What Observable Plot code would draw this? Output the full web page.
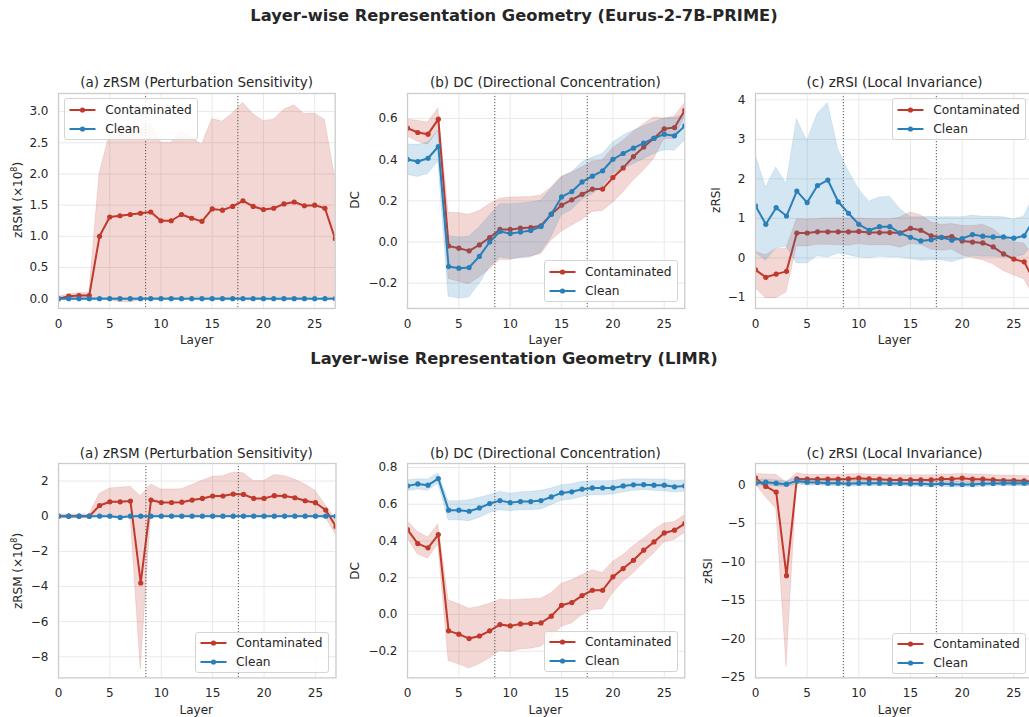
<!DOCTYPE html>
<html>
<head>
<meta charset="utf-8">
<script src="https://cdn.jsdelivr.net/npm/d3@7"></script>
<script src="https://cdn.jsdelivr.net/npm/@observablehq/plot@0.6"></script>
<style>
  body { margin: 0; background: #fff; }
  #fig { position: relative; width: 1029px; height: 717px; overflow: hidden; font-family: "DejaVu Sans", sans-serif; color: #262626; background: #fff; }
  .abs { position: absolute; white-space: nowrap; line-height: 1; }
  .ctr { transform: translate(-50%, -50%); }
  .main { font-weight: bold; font-size: 16.3px; }
  .ptitle { font-size: 13.5px; }
  .xlab { font-size: 12px; }
  .ylab { font-size: 12px; transform: translate(-50%, -50%) rotate(-90deg); }
  .legend { position: absolute; border: 1px solid #d4d4d4; border-radius: 3px; background: rgba(255,255,255,0.85); box-sizing: border-box; }
  .legend .row { position: absolute; left: 0; font-size: 12.2px; line-height: 1; white-space: nowrap; }
  sup { font-size: 8px; vertical-align: 5px; }
</style>
</head>
<body>
<div id="fig"></div>
<script>
// ---------------- data ----------------
const layers = [0,1,2,3,4,5,6,7,8,9,10,11,12,13,14,15,16,17,18,19,20,21,22,23,24,25,26,27];
const xTicks = [0,5,10,15,20,25];
const boundaries = [8.5, 17.5];
const seriesNames = ["Contaminated", "Clean"];

// Eurus-2-7B-PRIME : zRSM
const eurusZrsmContMean  = [0.0,0.04,0.05,0.05,1.0,1.31,1.33,1.35,1.37,1.39,1.25,1.25,1.35,1.29,1.24,1.44,1.42,1.48,1.57,1.48,1.43,1.45,1.52,1.55,1.49,1.50,1.45,0.96];
const eurusZrsmContUpper = [0.03,0.07,0.09,0.09,2.0,2.64,2.74,2.77,2.78,2.8,2.5,2.5,2.69,2.58,2.47,2.88,2.84,2.97,3.14,2.96,2.85,2.87,3.03,3.1,2.96,2.97,2.87,1.94];
const eurusZrsmContLower = [-0.03,0.01,0.01,0.01,0.0,-0.02,-0.06,-0.06,-0.03,-0.01,0.0,0.0,0.01,0.02,0.02,0.01,0.01,0.0,0.01,0.0,0.02,0.03,0.02,0.0,0.02,0.03,0.03,0.0];
const eurusZrsmCleanMean  = [0,0,0,0,0,0,0,0,0,0,0,0,0,0,0,0,0,0,0,0,0,0,0,0,0,0,0,0];
const eurusZrsmCleanUpper = [0.01,0.01,0.01,0.01,0.01,0.01,0.01,0.01,0.01,0.01,0.01,0.01,0.01,0.01,0.01,0.01,0.01,0.01,0.01,0.01,0.01,0.01,0.01,0.01,0.01,0.01,0.01,0.01];
const eurusZrsmCleanLower = [-0.01,-0.01,-0.01,-0.01,-0.01,-0.01,-0.01,-0.01,-0.01,-0.01,-0.01,-0.01,-0.01,-0.01,-0.01,-0.01,-0.01,-0.01,-0.01,-0.01,-0.01,-0.01,-0.01,-0.01,-0.01,-0.01,-0.01,-0.01];

// Eurus-2-7B-PRIME : DC
const eurusDcContMean  = [0.553,0.532,0.524,0.597,-0.019,-0.030,-0.043,-0.014,0.022,0.061,0.061,0.067,0.070,0.079,0.135,0.179,0.205,0.232,0.257,0.257,0.313,0.360,0.415,0.462,0.504,0.550,0.556,0.640];
const eurusDcContUpper = [0.594,0.589,0.581,0.649,0.143,0.140,0.132,0.151,0.184,0.210,0.216,0.217,0.219,0.226,0.265,0.317,0.338,0.362,0.391,0.397,0.456,0.491,0.535,0.572,0.605,0.600,0.610,0.673];
const eurusDcContLower = [0.513,0.487,0.473,0.543,-0.180,-0.193,-0.205,-0.173,-0.132,-0.088,-0.087,-0.075,-0.070,-0.059,0.006,0.050,0.079,0.107,0.146,0.151,0.190,0.240,0.297,0.346,0.403,0.500,0.500,0.607];
const eurusDcCleanMean  = [0.401,0.391,0.407,0.464,-0.119,-0.127,-0.124,-0.070,0.000,0.051,0.041,0.048,0.056,0.075,0.135,0.219,0.245,0.292,0.320,0.346,0.402,0.430,0.456,0.480,0.504,0.524,0.516,0.564];
const eurusDcCleanUpper = [0.475,0.472,0.483,0.540,0.030,0.022,0.025,0.070,0.127,0.184,0.184,0.187,0.192,0.200,0.257,0.313,0.338,0.386,0.410,0.427,0.483,0.516,0.540,0.561,0.581,0.600,0.602,0.621];
const eurusDcCleanLower = [0.326,0.316,0.330,0.391,-0.266,-0.275,-0.270,-0.205,-0.124,-0.075,-0.083,-0.080,-0.075,-0.051,0.022,0.130,0.155,0.205,0.232,0.265,0.330,0.354,0.378,0.402,0.427,0.446,0.443,0.491];

// Eurus-2-7B-PRIME : zRSI
const eurusZrsiContMean  = [-0.30,-0.49,-0.41,-0.34,0.63,0.63,0.66,0.66,0.66,0.66,0.67,0.64,0.64,0.64,0.63,0.75,0.70,0.56,0.52,0.54,0.43,0.40,0.38,0.28,0.10,-0.03,-0.10,-0.60];
const eurusZrsiContUpper = [0.15,0.07,0.22,0.24,0.98,0.97,0.98,1.0,1.0,1.0,1.0,0.98,0.98,0.98,1.02,1.15,1.08,0.90,0.83,0.86,0.81,0.81,0.84,0.73,0.52,0.39,0.37,0.0];
const eurusZrsiContLower = [-0.76,-1.02,-1.02,-0.87,0.29,0.29,0.33,0.33,0.32,0.31,0.35,0.32,0.32,0.32,0.26,0.35,0.33,0.21,0.18,0.21,0.07,0.0,-0.06,-0.16,-0.33,-0.44,-0.54,-1.0];
const eurusZrsiCleanMean  = [1.32,0.85,1.27,1.06,1.69,1.40,1.83,1.97,1.42,1.13,0.85,0.70,0.79,0.79,0.63,0.52,0.43,0.46,0.52,0.45,0.49,0.59,0.55,0.53,0.53,0.50,0.56,1.0];
const eurusZrsiCleanUpper = [2.62,1.78,2.29,1.87,3.51,2.96,3.64,3.92,2.75,2.20,1.74,1.42,1.53,1.55,1.24,1.03,1.03,1.04,1.03,1.03,1.03,1.07,1.04,1.04,1.03,0.97,1.05,1.6];
const eurusZrsiCleanLower = [0.14,-0.07,0.24,0.29,-0.14,-0.14,0.04,0.01,0.11,0.07,0.01,-0.01,0.03,0.01,0.01,-0.03,-0.07,-0.06,-0.06,-0.11,-0.03,0.04,0.03,0.03,0.01,0.01,0.07,0.4];

// LIMR : zRSM
const limrZrsmContMean  = [0.0,0.0,0.0,0.0,0.61,0.82,0.82,0.86,-3.8,0.92,0.78,0.78,0.80,0.92,1.01,1.15,1.15,1.26,1.24,1.01,1.01,1.17,1.15,1.05,0.88,0.77,0.35,-0.6];
const limrZrsmContUpper = [0.1,0.1,0.1,0.1,1.26,1.58,1.62,1.68,1.14,1.81,1.52,1.52,1.54,1.77,2.02,2.25,2.28,2.49,2.44,2.0,2.0,2.34,2.28,2.09,1.81,1.45,0.63,-0.22];
const limrZrsmContLower = [-0.1,-0.1,-0.1,-0.1,-0.03,0.06,0.0,0.06,-8.72,0.0,0.04,0.04,0.04,0.06,0.0,0.04,0.0,0.0,0.0,0.0,0.0,0.0,0.0,0.0,0.0,-0.03,-0.07,-1.07];
const limrZrsmCleanMean  = [0,0,0,0,0,0,-0.07,0,0,0,0,0,0,0,0,0,0,0,0,0,0,0,0,0,0,0,0,0];
const limrZrsmCleanUpper = [0.03,0.03,0.03,0.03,0.03,0.03,-0.03,0.03,0.03,0.03,0.03,0.03,0.03,0.03,0.03,0.03,0.03,0.03,0.03,0.03,0.03,0.03,0.03,0.03,0.03,0.03,0.03,0.03];
const limrZrsmCleanLower = [-0.03,-0.03,-0.03,-0.03,-0.03,-0.03,-0.11,-0.03,-0.03,-0.03,-0.03,-0.03,-0.03,-0.03,-0.03,-0.03,-0.03,-0.03,-0.03,-0.03,-0.03,-0.03,-0.03,-0.03,-0.03,-0.03,-0.03,-0.03];

// LIMR : DC
const limrDcContMean  = [0.462,0.386,0.363,0.435,-0.089,-0.107,-0.131,-0.117,-0.089,-0.055,-0.062,-0.051,-0.049,-0.046,-0.009,0.050,0.065,0.103,0.132,0.132,0.205,0.250,0.295,0.350,0.395,0.444,0.459,0.495];
const limrDcContUpper = [0.508,0.450,0.419,0.491,0.078,0.056,0.032,0.041,0.059,0.081,0.078,0.081,0.083,0.086,0.114,0.168,0.186,0.214,0.241,0.226,0.286,0.323,0.372,0.413,0.459,0.495,0.504,0.540];
const limrDcContLower = [0.417,0.326,0.305,0.381,-0.253,-0.271,-0.294,-0.271,-0.240,-0.198,-0.204,-0.191,-0.186,-0.176,-0.127,-0.067,-0.049,-0.004,0.024,0.029,0.114,0.177,0.223,0.281,0.332,0.392,0.405,0.444];
const limrDcCleanMean  = [0.700,0.711,0.704,0.740,0.568,0.568,0.562,0.580,0.604,0.620,0.609,0.615,0.615,0.620,0.640,0.662,0.668,0.682,0.689,0.689,0.689,0.700,0.706,0.707,0.704,0.704,0.695,0.700];
const limrDcCleanUpper = [0.731,0.736,0.735,0.767,0.617,0.617,0.622,0.635,0.649,0.668,0.658,0.664,0.668,0.673,0.686,0.704,0.709,0.722,0.726,0.726,0.727,0.735,0.736,0.736,0.735,0.735,0.727,0.731];
const limrDcCleanLower = [0.671,0.680,0.673,0.713,0.513,0.513,0.508,0.526,0.553,0.568,0.562,0.568,0.568,0.571,0.595,0.619,0.626,0.640,0.649,0.649,0.653,0.664,0.673,0.677,0.673,0.671,0.664,0.668];

// LIMR : zRSI
const limrZrsiContMean  = [0.9,-0.21,-0.94,-11.8,0.77,0.73,0.73,0.73,0.73,0.77,0.86,0.77,0.73,0.64,0.64,0.64,0.64,0.64,0.77,0.77,0.86,0.73,0.73,0.64,0.56,0.56,0.51,0.43];
const limrZrsiContUpper = [1.4,1.35,1.3,0.3,1.5,1.3,1.3,1.3,1.3,1.35,1.4,1.35,1.3,1.25,1.25,1.25,1.25,1.25,1.35,1.35,1.45,1.35,1.35,1.25,1.2,1.2,1.15,1.1];
const limrZrsiContLower = [0.1,-1.6,-3.1,-23.7,0.1,0.15,0.15,0.15,0.15,0.2,0.3,0.2,0.15,0.05,0.05,0.05,0.05,0.05,0.2,0.2,0.3,0.15,0.15,0.05,-0.05,-0.05,-0.1,-0.2];
const limrZrsiCleanMean  = [0.21,0.34,0.21,0.09,0.51,0.34,0.30,0.21,0.21,0.13,0.21,0.21,0.21,0.17,0.17,0.13,0.13,0.04,0.13,0.09,0.04,0.04,0.13,0.17,0.21,0.21,0.21,0.21];
const limrZrsiCleanUpper = [0.6,0.7,0.6,0.45,0.85,0.7,0.65,0.55,0.55,0.5,0.55,0.55,0.55,0.5,0.5,0.5,0.5,0.4,0.5,0.45,0.4,0.4,0.5,0.5,0.55,0.55,0.55,0.55];
const limrZrsiCleanLower = [-0.2,-0.05,-0.2,-0.3,0.15,-0.05,-0.05,-0.15,-0.15,-0.25,-0.15,-0.15,-0.15,-0.2,-0.2,-0.25,-0.25,-0.35,-0.25,-0.3,-0.35,-0.35,-0.25,-0.2,-0.15,-0.15,-0.15,-0.15];

// ---------------- style ----------------
const RED = "#c0392b";
const BLUE = "#2980b9";
const f1 = d3.format(".1f");
const f0 = d3.format("d");

const panels = [
  {title: "(a) zRSM (Perturbation Sensitivity)", ylab: "zRSM (×10<sup>8</sup>)", frame: [58.3, 92.7, 276.7, 215], ydom: [-0.157, 3.29], yticks: [0,0.5,1,1.5,2,2.5,3], fmt: f1,
   cont: [eurusZrsmContMean, eurusZrsmContLower, eurusZrsmContUpper], clean: [eurusZrsmCleanMean, eurusZrsmCleanLower, eurusZrsmCleanUpper], ylx: 17, legend: [64.3, 98.3]},
  {title: "(b) DC (Directional Concentration)", ylab: "DC", frame: [406.7, 92.7, 277.3, 215], ydom: [-0.323, 0.7215], yticks: [-0.2,0,0.2,0.4,0.6], fmt: f1,
   cont: [eurusDcContMean, eurusDcContLower, eurusDcContUpper], clean: [eurusDcCleanMean, eurusDcCleanLower, eurusDcCleanUpper], ylx: 355, legend: [544, 260]},
  {title: "(c) zRSI (Local Invariance)", ylab: "zRSI", frame: [755, 92.7, 279, 215], ydom: [-1.28, 4.16], yticks: [-1,0,1,2,3,4], fmt: f0,
   cont: [eurusZrsiContMean, eurusZrsiContLower, eurusZrsiContUpper], clean: [eurusZrsiCleanMean, eurusZrsiCleanLower, eurusZrsiCleanUpper], ylx: 716, legend: [892.3, 98.3]},
  {title: "(a) zRSM (Perturbation Sensitivity)", ylab: "zRSM (×10<sup>8</sup>)", frame: [57.5, 463.3, 277.5, 214.4], ydom: [-9.2, 3.0], yticks: [-8,-6,-4,-2,0,2], fmt: f0,
   cont: [limrZrsmContMean, limrZrsmContLower, limrZrsmContUpper], clean: [limrZrsmCleanMean, limrZrsmCleanLower, limrZrsmCleanUpper], ylx: 17, legend: [195, 631.7]},
  {title: "(b) DC (Directional Concentration)", ylab: "DC", frame: [406.7, 463.3, 277.3, 214.4], ydom: [-0.345, 0.822], yticks: [-0.2,0,0.2,0.4,0.6,0.8], fmt: f1,
   cont: [limrDcContMean, limrDcContLower, limrDcContUpper], clean: [limrDcCleanMean, limrDcCleanLower, limrDcCleanUpper], ylx: 355, legend: [544, 630.7]},
  {title: "(c) zRSI (Local Invariance)", ylab: "zRSI", frame: [755, 463.3, 279, 214.4], ydom: [-25.07, 2.77], yticks: [-25,-20,-15,-10,-5,0], fmt: f0,
   cont: [limrZrsiContMean, limrZrsiContLower, limrZrsiContUpper], clean: [limrZrsiCleanMean, limrZrsiCleanLower, limrZrsiCleanUpper], ylx: 708, legend: [892.3, 632.7]}
];

const fig = document.getElementById("fig");
function addDiv(cls, left, top, html) {
  const d = document.createElement("div");
  d.className = cls;
  d.style.left = left + "px";
  d.style.top = top + "px";
  d.innerHTML = html;
  fig.appendChild(d);
  return d;
}

// main titles
addDiv("abs ctr main", 514, 15.5, "Layer-wise Representation Geometry (Eurus-2-7B-PRIME)");
addDiv("abs ctr main", 514, 358.5, "Layer-wise Representation Geometry (LIMR)");

const ML = 60, MR = 4, MT = 4, MB = 36;

function rows(name, arrs) {
  return layers.map((l, i) => ({layer: l, group: name, mean: arrs[0][i], lo: arrs[1][i], hi: arrs[2][i]}));
}

panels.forEach((p) => {
  const [fx, fy, fw, fh] = p.frame;
  const cont = rows(seriesNames[0], p.cont);
  const clean = rows(seriesNames[1], p.clean);
  const svg = Plot.plot({
    width: fw + ML + MR,
    height: fh + MT + MB,
    marginLeft: ML, marginRight: MR, marginTop: MT, marginBottom: MB,
    x: {domain: [0, 27]},
    y: {domain: p.ydom},
    style: {fontFamily: "DejaVu Sans, sans-serif", fontSize: "12px", color: "#262626", background: "transparent", overflow: "visible"},
    marks: [
      Plot.gridX(xTicks, {stroke: "#e9e9e9", strokeOpacity: 1, strokeWidth: 1}),
      Plot.gridY(p.yticks, {stroke: "#e9e9e9", strokeOpacity: 1, strokeWidth: 1}),
      Plot.areaY(cont, {x: "layer", y1: "lo", y2: "hi", fill: RED, fillOpacity: 0.2, stroke: RED, strokeOpacity: 0.12, strokeWidth: 1, clip: true}),
      Plot.line(cont, {x: "layer", y: "mean", stroke: RED, strokeWidth: 2, clip: true}),
      Plot.dot(cont, {x: "layer", y: "mean", fill: RED, r: 2.6, clip: true}),
      Plot.areaY(clean, {x: "layer", y1: "lo", y2: "hi", fill: BLUE, fillOpacity: 0.2, stroke: BLUE, strokeOpacity: 0.12, strokeWidth: 1, clip: true}),
      Plot.line(clean, {x: "layer", y: "mean", stroke: BLUE, strokeWidth: 2, clip: true}),
      Plot.dot(clean, {x: "layer", y: "mean", fill: BLUE, r: 2.6, clip: true}),
      Plot.ruleX(boundaries, {stroke: "#555", strokeWidth: 1, strokeDasharray: "1.2,1.8"}),
      Plot.frame({stroke: "#cccccc", strokeWidth: 1.3}),
      Plot.axisX(xTicks, {tickSize: 0, tickPadding: 11, label: null, fontSize: 12}),
      Plot.axisY(p.yticks, {tickSize: 0, tickPadding: 10, label: null, tickFormat: p.fmt, fontSize: 12})
    ]
  });
  svg.style.position = "absolute";
  svg.style.left = (fx - ML) + "px";
  svg.style.top = (fy - MT) + "px";
  fig.appendChild(svg);

  // panel title, axis labels
  addDiv("abs ctr ptitle", fx + fw / 2, fy - 9.5, p.title);
  addDiv("abs ctr xlab", fx + fw / 2, fy + fh + 31.8, "Layer");
  addDiv("abs ylab", p.ylx, fy + fh / 2, p.ylab);

  // legend
  const [lx, ly] = p.legend;
  const lg = document.createElement("div");
  lg.className = "legend";
  lg.style.left = lx + "px"; lg.style.top = ly + "px";
  lg.style.width = "134px"; lg.style.height = "41.5px";
  [[seriesNames[0], RED, 10.5], [seriesNames[1], BLUE, 29.5]].forEach(([name, col, cy]) => {
    const r = document.createElement("div");
    r.className = "row";
    r.style.top = (cy - 6) + "px";
    r.innerHTML = `<svg width="34" height="12" style="position:absolute;left:3.5px;top:0"><line x1="0.5" y1="6" x2="26.5" y2="6" stroke="${col}" stroke-width="2"/><circle cx="13.5" cy="6" r="2.6" fill="${col}"/></svg><span style="position:absolute;left:40px;top:0px;">${name}</span>`;
    lg.appendChild(r);
  });
  fig.appendChild(lg);
});
</script>
</body>
</html>
